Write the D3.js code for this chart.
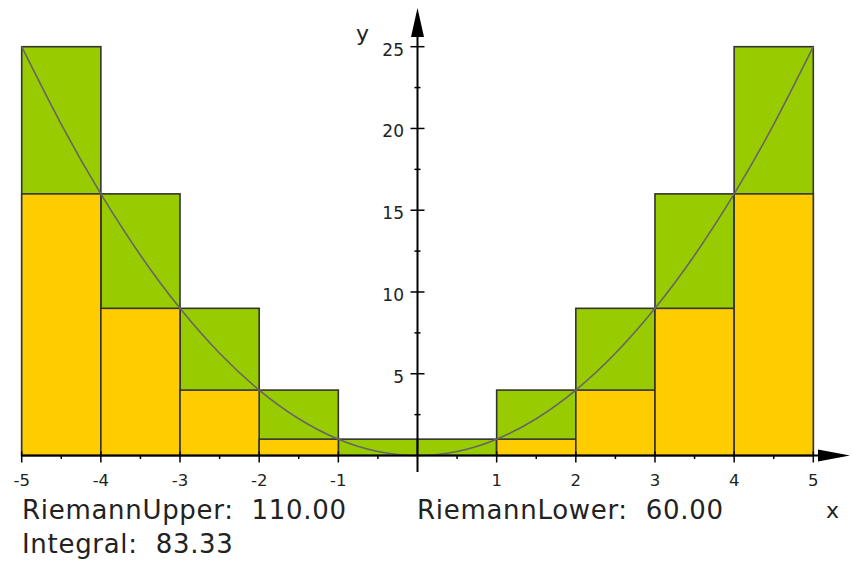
<!DOCTYPE html>
<html><head><meta charset="utf-8">
<script src="https://cdn.jsdelivr.net/npm/d3@7"></script>
<style>body{margin:0;background:#fff}svg{display:block}text{font-family:"DejaVu Sans",sans-serif;fill:#222}</style>
</head><body><svg id="c" width="852" height="562"></svg>
<script>
const leftEdges = [-5,-4,-3,-2,-1,0,1,2,3,4];
const upperValues = [25,16,9,4,1,1,4,9,16,25];
const lowerValues = [16,9,4,1,0,0,1,4,9,16];
const curveX = [-5,-4.5,-4,-3.5,-3,-2.5,-2,-1.5,-1,-0.5,0,0.5,1,1.5,2,2.5,3,3.5,4,4.5,5];
const curveY = [25,20.25,16,12.25,9,6.25,4,2.25,1,0.25,0,0.25,1,2.25,4,6.25,9,12.25,16,20.25,25];
const xTicks = [-5,-4,-3,-2,-1,1,2,3,4,5];
const xMinor = [-4.5,-3.5,-2.5,-1.5,-0.5,0.5,1.5,2.5,3.5,4.5];
const yTicks = [5,10,15,20,25];
const yMinor = [2.5,7.5,12.5,17.5,22.5];
const summary = [["RiemannUpper:  110.00", 22, 519],["RiemannLower:  60.00", 417, 519],["Integral:  83.33", 22, 553]];

const svg = d3.select("#c");
const x = d3.scaleLinear().domain([-5,5]).range([21.7,813.3]);
const y = d3.scaleLinear().domain([0,25]).range([455.5,46.7]);
const W = 1;

svg.append("g").selectAll("rect").data(leftEdges).join("rect")
  .attr("x", d=>x(d)).attr("width", d=>x(d+W)-x(d))
  .attr("y", (d,i)=>y(upperValues[i])).attr("height",(d,i)=>y(0)-y(upperValues[i]))
  .attr("fill","#99cc00").attr("stroke","#333").attr("stroke-width",1.6);
svg.append("g").selectAll("rect").data(leftEdges.filter((d,i)=>lowerValues[i]>0)).join("rect")
  .attr("x", d=>x(d)).attr("width", d=>x(d+W)-x(d))
  .attr("y", d=>y(lowerValues[leftEdges.indexOf(d)])).attr("height",d=>y(0)-y(lowerValues[leftEdges.indexOf(d)]))
  .attr("fill","#ffcc00").attr("stroke","#333").attr("stroke-width",1.6);

svg.append("path").datum(curveX.map((d,i)=>[d,curveY[i]]))
  .attr("d", d3.line().x(d=>x(d[0])).y(d=>y(d[1])).curve(d3.curveNatural))
  .attr("fill","none").attr("stroke","#666").attr("stroke-width",1.6);

const ax = x(0), ay = y(0);
svg.append("line").attr("x1",x(-5)).attr("x2",840).attr("y1",ay).attr("y2",ay).attr("stroke","#000").attr("stroke-width",2);
svg.append("path").attr("d",`M850,${ay} L818,${ay-6} L818,${ay+6} Z`).attr("fill","#000");
svg.append("g").selectAll("line").data(xTicks).join("line")
  .attr("x1",d=>x(d)).attr("x2",d=>x(d)).attr("y1",ay-4).attr("y2",ay+7).attr("stroke","#000").attr("stroke-width",1.5);
svg.append("g").selectAll("line").data(xMinor).join("line")
  .attr("x1",d=>x(d)).attr("x2",d=>x(d)).attr("y1",ay).attr("y2",ay+3.5).attr("stroke","#000").attr("stroke-width",1.5);
svg.append("g").selectAll("text").data(xTicks).join("text")
  .attr("x",d=>x(d)).attr("y",486).attr("text-anchor","middle").attr("font-size",16.5).text(d=>d<0?"-"+(-d):d);

svg.append("line").attr("x1",ax).attr("x2",ax).attr("y1",472).attr("y2",20).attr("stroke","#000").attr("stroke-width",2);
svg.append("path").attr("d",`M${ax},8 L${ax-6.5},37 L${ax+6.5},37 Z`).attr("fill","#000");
svg.append("g").selectAll("line").data(yTicks).join("line")
  .attr("x1",ax-7).attr("x2",ax+7).attr("y1",d=>y(d)).attr("y2",d=>y(d)).attr("stroke","#000").attr("stroke-width",1.5);
svg.append("g").selectAll("line").data(yMinor).join("line")
  .attr("x1",ax-3).attr("x2",ax+3).attr("y1",d=>y(d)).attr("y2",d=>y(d)).attr("stroke","#000").attr("stroke-width",1.5);
svg.append("g").selectAll("text").data(yTicks).join("text")
  .attr("x",404).attr("y",d=>y(d)+9).attr("text-anchor","end").attr("font-size",17).text(d=>d);

svg.append("text").attr("x",356).attr("y",41).attr("font-size",22).text("y");
svg.append("text").attr("x",826).attr("y",518).attr("font-size",22).text("x");

svg.append("g").selectAll("text").data(summary).join("text")
  .attr("x",d=>d[1]).attr("y",d=>d[2]).attr("font-size",26).attr("letter-spacing","0.7px").attr("fill","#333").attr("xml:space","preserve").text(d=>d[0]);
</script></body></html>
